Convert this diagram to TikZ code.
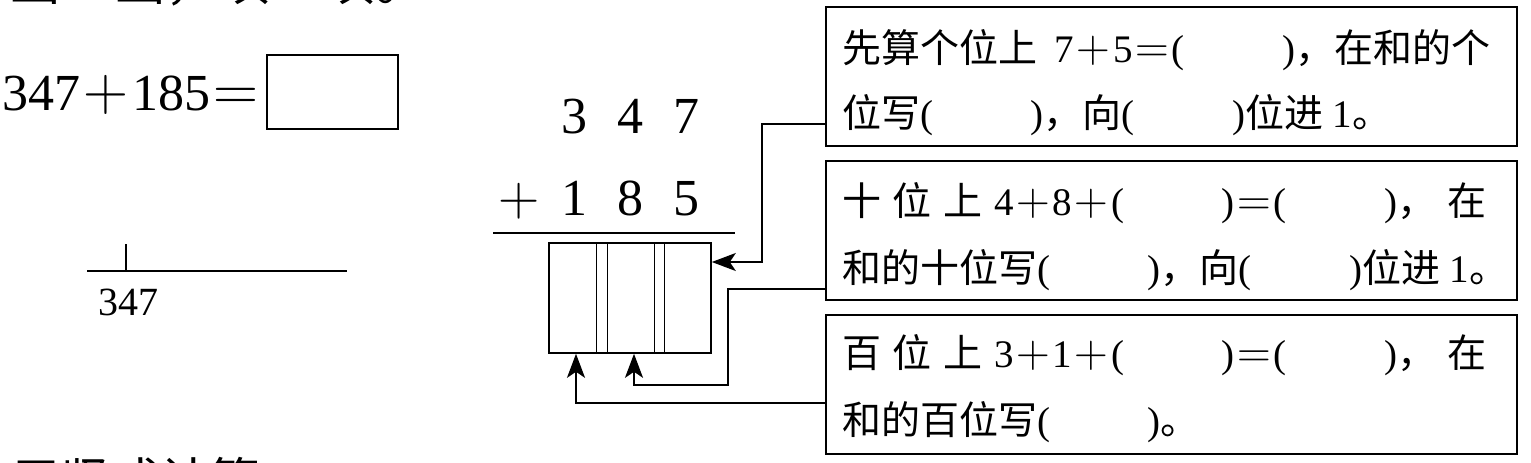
\documentclass[tikz,border=0pt]{standalone}
\usepackage{graphicx}
\usepackage{fontspec}
\setmainfont{Liberation Serif}
\newfontfamily\cjk{Noto Sans CJK SC}
\newfontfamily\lm{Latin Modern Roman}
\usetikzlibrary{arrows.meta}
\newcommand{\jia}{\makebox[1em]{\scalebox{1.2}{\lm +}}}
\newcommand{\deng}{\makebox[1em]{\scalebox{1.2}{\lm =}}}
\newcommand{\kong}{(\hspace{2.5em})}
\tikzset{
  txtbox/.style={draw, line width=1.6pt, minimum width=691pt, minimum height=139pt, inner sep=0pt},
  hint/.style={anchor=base west, inner sep=0pt, font=\fontsize{39pt}{39pt}\selectfont},
  big/.style={inner sep=0pt, font=\fontsize{52pt}{52pt}\selectfont},
  arr/.style={line width=1.6pt, -{Stealth[length=24pt,width=18pt,inset=6pt]}},
}
\begin{document}
\begin{tikzpicture}[x=1pt,y=-1pt]
	\useasboundingbox (0,0) rectangle (1531,463);
	\clip (0,0) rectangle (1531,463);
	% cut-off lines of the page above and below
	\node[anchor=base west, inner sep=0pt, font=\fontsize{52.5pt}{52.5pt}\selectfont] (topcut) at (8,1) {\cjk 画一画，填一填。};
	\node[anchor=base west, inner sep=0pt, font=\fontsize{50pt}{50pt}\selectfont] (botcut) at (10,499) {\cjk 用竖式计算};

	\node[big, anchor=base west] (eqn) at (2,110) {347\jia185\deng};
	\node[draw, line width=1.6pt, minimum width=131pt, minimum height=74pt] (res) at (332.5,92) {}; % box for the sum

	\draw[line width=1.6pt] (87,271) -- (347,271);
	\draw[line width=1.6pt] (126,244) -- (126,271);
	\node[anchor=base west, inner sep=0pt, font=\fontsize{40pt}{40pt}\selectfont] (num) at (98,315) {347};

	\node[big, anchor=base east] (row1) at (700,133) {3\hspace{30pt}4\hspace{30pt}7};
	\node[big, anchor=base east] (row2) at (700,215) {\makebox[26pt]{\scalebox{1.1}{\lm +}}\hspace{30pt}1\hspace{30pt}8\hspace{30pt}5};
	\draw[line width=1.6pt] (493,233) -- (735,233);
	\node[draw, line width=1.6pt, minimum width=162pt, minimum height=110pt] (ans) at (630,298) {}; % answer cells
	\draw[line width=0.9pt] ([xshift=-34pt]ans.north) -- ([xshift=-34pt]ans.south);
	\draw[line width=0.9pt] ([xshift=-23pt]ans.north) -- ([xshift=-23pt]ans.south);
	\draw[line width=0.9pt] ([xshift=24pt]ans.north) -- ([xshift=24pt]ans.south);
	\draw[line width=0.9pt] ([xshift=34pt]ans.north) -- ([xshift=34pt]ans.south);

	\node[txtbox] (b1) at (1171.5,76.5) {};
	\node[hint] (b1a) at (842,62) {{\cjk 先算个位上}\hspace{0.45em}7\jia5\deng\kong{\cjk ，在和的个}};
	\node[hint] (b1b) at (842,127) {{\cjk 位写}\kong{\cjk ，向}\kong{\cjk 位进}\hspace{0.25em}1{\cjk 。}};

	\node[txtbox] (b2) at (1171.5,230.5) {};
	\node[hint] (b2a) at (842,215) {{\cjk 十}\hspace{0.3em}{\cjk 位}\hspace{0.3em}{\cjk 上}\hspace{0.3em}4\jia8\jia\kong\deng\kong{\cjk ，}\hspace{0.3em}{\cjk 在}};
	\node[hint] (b2b) at (842,282) {{\cjk 和的十位写}\kong{\cjk ，向}\kong{\cjk 位进}\hspace{0.25em}1{\cjk 。}};

	\node[txtbox] (b3) at (1171.5,384.5) {};
	\node[hint] (b3a) at (842,367) {{\cjk 百}\hspace{0.3em}{\cjk 位}\hspace{0.3em}{\cjk 上}\hspace{0.3em}3\jia1\jia\kong\deng\kong{\cjk ，}\hspace{0.3em}{\cjk 在}};
	\node[hint] (b3b) at (842,434) {{\cjk 和的百位写}\kong{\cjk 。}};

	\draw[arr] ([yshift=-47.5pt]b1.west) -- ++(-63,0) |- ([yshift=36pt]ans.east);
	\draw[arr] ([yshift=-58.5pt]b2.west) -- ++(-97,0) -- ++(0,96) -| ([xshift=4pt]ans.south);
	\draw[arr] ([yshift=-18.5pt]b3.west) -| ([xshift=-54pt]ans.south);
\end{tikzpicture}
\end{document}
